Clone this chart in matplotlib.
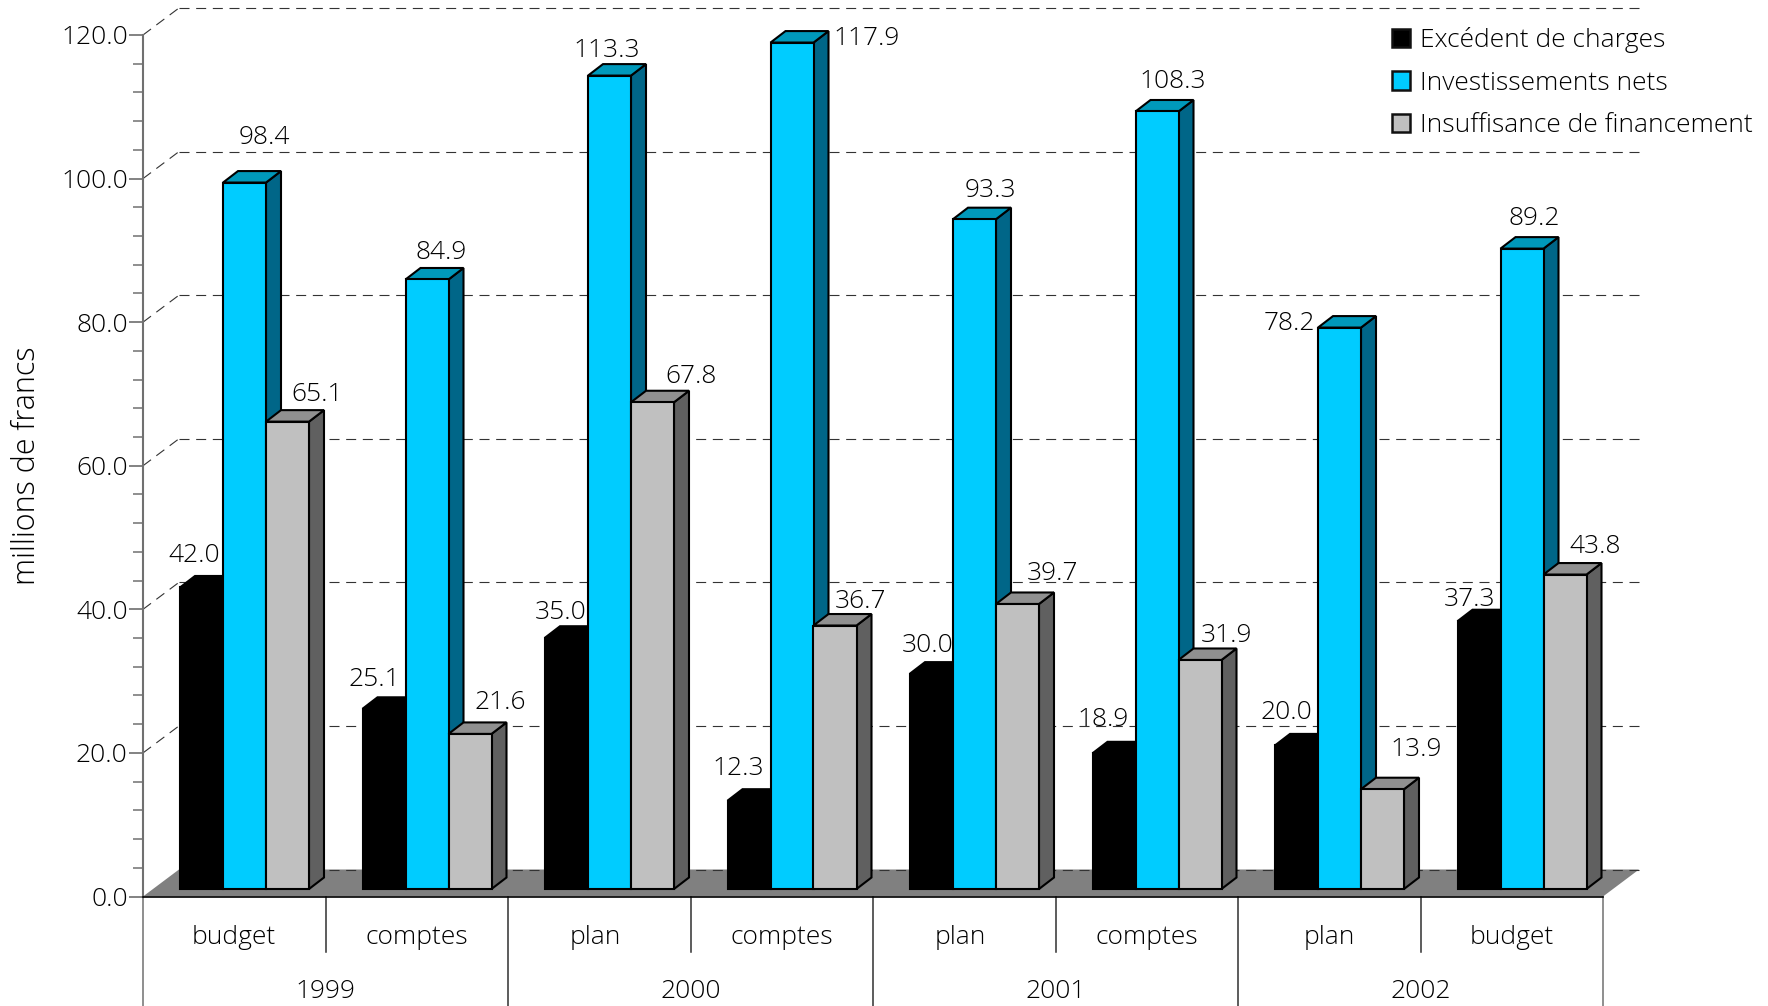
import numpy as np
import matplotlib
matplotlib.use('Agg')
import matplotlib.pyplot as plt
from matplotlib.patches import Patch, Polygon
from matplotlib.ticker import MultipleLocator

plt.rcParams['font.family'] = ['Open Sans', 'DejaVu Sans']
plt.rcParams['font.weight'] = 'light'

phases = ['budget', 'comptes', 'plan', 'comptes', 'plan', 'comptes', 'plan', 'budget']
years = ['1999', '2000', '2001', '2002']
excedent = [42.0, 25.1, 35.0, 12.3, 30.0, 18.9, 20.0, 37.3]
investissements = [98.4, 84.9, 113.3, 117.9, 93.3, 108.3, 78.2, 89.2]
insuffisance = [65.1, 21.6, 67.8, 36.7, 39.7, 31.9, 13.9, 43.8]

# label offsets from the top of each bar, in pixels
excedent_off = [(-7, 32), (-10, 29), (-6, 25), (-11, 32), (-4, 28), (-11, 34), (-10, 33), (-9, 22)]
invest_off = [(20, 45), (14, 27), (-3, 25), (75, 4), (16, 29), (16, 30), (-50, 4), (12, 30)]
insuff_off = [(30, 27), (30, 31), (39, 26), (26, 24), (35, 30), (26, 24), (34, 40), (30, 28)]
# the "plan" captions sit a little left of their slot
phase_shift = [0, 0, -3.5, 0, -3.5, 0, 0, 0]

W, H = 1768, 1006
X0, X1, Y0, Y1 = 143, 1603, 896.5, 35
PX = 8 / (X1 - X0)      # category units per pixel
PY = 120 / (Y0 - Y1)    # value units per pixel

WALL_DX, WALL_DY = 36 * PX, 27 * PY
BAR_DX, BAR_DY = 15 * PX, 11.5 * PY
BAR_W = 43 * PX
BAR_START = 37 * PX
BASE = 7.5 * PY

series = [
    (excedent, excedent_off, '#000000', '#000000', '#000000'),
    (investissements, invest_off, '#00CCFF', '#0099BB', '#006688'),
    (insuffisance, insuff_off, '#C0C0C0', '#909090', '#606060'),
]
names = ['Excédent de charges', 'Investissements nets', 'Insuffisance de financement']

fig = plt.figure(figsize=(W / 100, H / 100), dpi=100)
ax = fig.add_axes([X0 / W, (H - Y0) / H, (X1 - X0) / W, (Y0 - Y1) / H])
ax.set_xlim(0, 8)
ax.set_ylim(0, 120)

for s in ['top', 'right']:
    ax.spines[s].set_visible(False)
ax.spines['left'].set_color('#707070')
ax.spines['left'].set_linewidth(1.5)
ax.spines['bottom'].set_color('#000000')
ax.spines['bottom'].set_linewidth(1.2)
ax.spines['bottom'].set_zorder(6)

ax.yaxis.set_major_locator(MultipleLocator(20))
ax.yaxis.set_minor_locator(MultipleLocator(4))
ax.yaxis.set_major_formatter(lambda v, pos: f'{v:.1f}')
ax.tick_params(axis='y', which='major', length=10, width=1.1, color='#606060',
               labelsize=19, pad=1, labelcolor='black')
ax.tick_params(axis='y', which='minor', length=7, width=1.1, color='#707070')
ax.set_xticks([])
ax.text((27 - X0) * PX, (Y0 - 466) * PY, 'millions de francs', rotation=90, fontsize=22,
        ha='center', va='center', color='black', clip_on=False)

# floor
ax.add_patch(Polygon([(0, 0), (WALL_DX, WALL_DY), (8 + WALL_DX, WALL_DY), (8, 0)],
                     facecolor='#808080', edgecolor='none', zorder=1, clip_on=False))

# back wall grid and its slanted part on the left wall
for v in range(0, 121, 20):
    ax.plot([WALL_DX, 8 + WALL_DX], [v + WALL_DY] * 2, color='#333333', lw=0.8,
            dashes=(9, 6), zorder=1.5, clip_on=False)
    if v > 0:
        ax.plot([0, WALL_DX], [v, v + WALL_DY], color='#333333', lw=0.8,
                dashes=(9, 6), zorder=1.5, clip_on=False)


def draw_bar(x, value, front, top, side, z):
    y0 = BASE
    y1 = BASE + value
    x1 = x + BAR_W
    ax.add_patch(Polygon([(x1, y0), (x1 + BAR_DX, y0 + BAR_DY), (x1 + BAR_DX, y1 + BAR_DY), (x1, y1)],
                         facecolor=side, edgecolor='black', lw=1.5, joinstyle='miter', zorder=z, clip_on=False))
    ax.add_patch(Polygon([(x, y1), (x + BAR_DX, y1 + BAR_DY), (x1 + BAR_DX, y1 + BAR_DY), (x1, y1)],
                         facecolor=top, edgecolor='black', lw=1.5, joinstyle='miter', zorder=z, clip_on=False))
    ax.add_patch(Polygon([(x, y0), (x1, y0), (x1, y1), (x, y1)],
                         facecolor=front, edgecolor='black', lw=1.5, joinstyle='miter', zorder=z, clip_on=False))


z = 2.0
for c in range(len(phases)):
    for i, (vals, offs, front, top, side) in enumerate(series):
        x = c + BAR_START + i * BAR_W
        draw_bar(x, vals[c], front, top, side, z)
        z += 0.01
        ax.text(x + BAR_W / 2 + offs[c][0] * PX, BASE + vals[c] + offs[c][1] * PY, f'{vals[c]:.1f}',
                fontsize=19, ha='center', va='center', color='black', zorder=8, clip_on=False)

# two-level category axis
for c in range(9):
    is_year = c % 2 == 0
    bottom = (Y0 - H) * PY if is_year else (Y0 - 952) * PY
    color = '#707070' if c in (0, 8) else '#303030'
    ax.plot([c, c], [0, bottom], color=color, lw=1.1, zorder=6, clip_on=False)

for c, name in enumerate(phases):
    ax.text(c + 0.5 + phase_shift[c] * PX, (Y0 - 938) * PY, name, fontsize=19, ha='center', va='center',
            color='black', clip_on=False)
for k, year in enumerate(years):
    ax.text(2 * k + 1, (Y0 - 991) * PY, year, fontsize=19, ha='center', va='center',
            color='black', clip_on=False)

handles = [Patch(facecolor=f, edgecolor='#111111', lw=1.8, label=n)
           for (_, _, f, _, _), n in zip(series, names)]
ax.legend(handles=handles, loc='upper left', bbox_to_anchor=(1392 / W, (H - 27) / H),
          bbox_transform=fig.transFigure, frameon=False, fontsize=19, borderpad=0, borderaxespad=0,
          handlelength=0.7, handleheight=0.7, handletextpad=0.36, labelspacing=0.67,
          labelcolor='black')

fig.savefig('out.png', dpi=100)
